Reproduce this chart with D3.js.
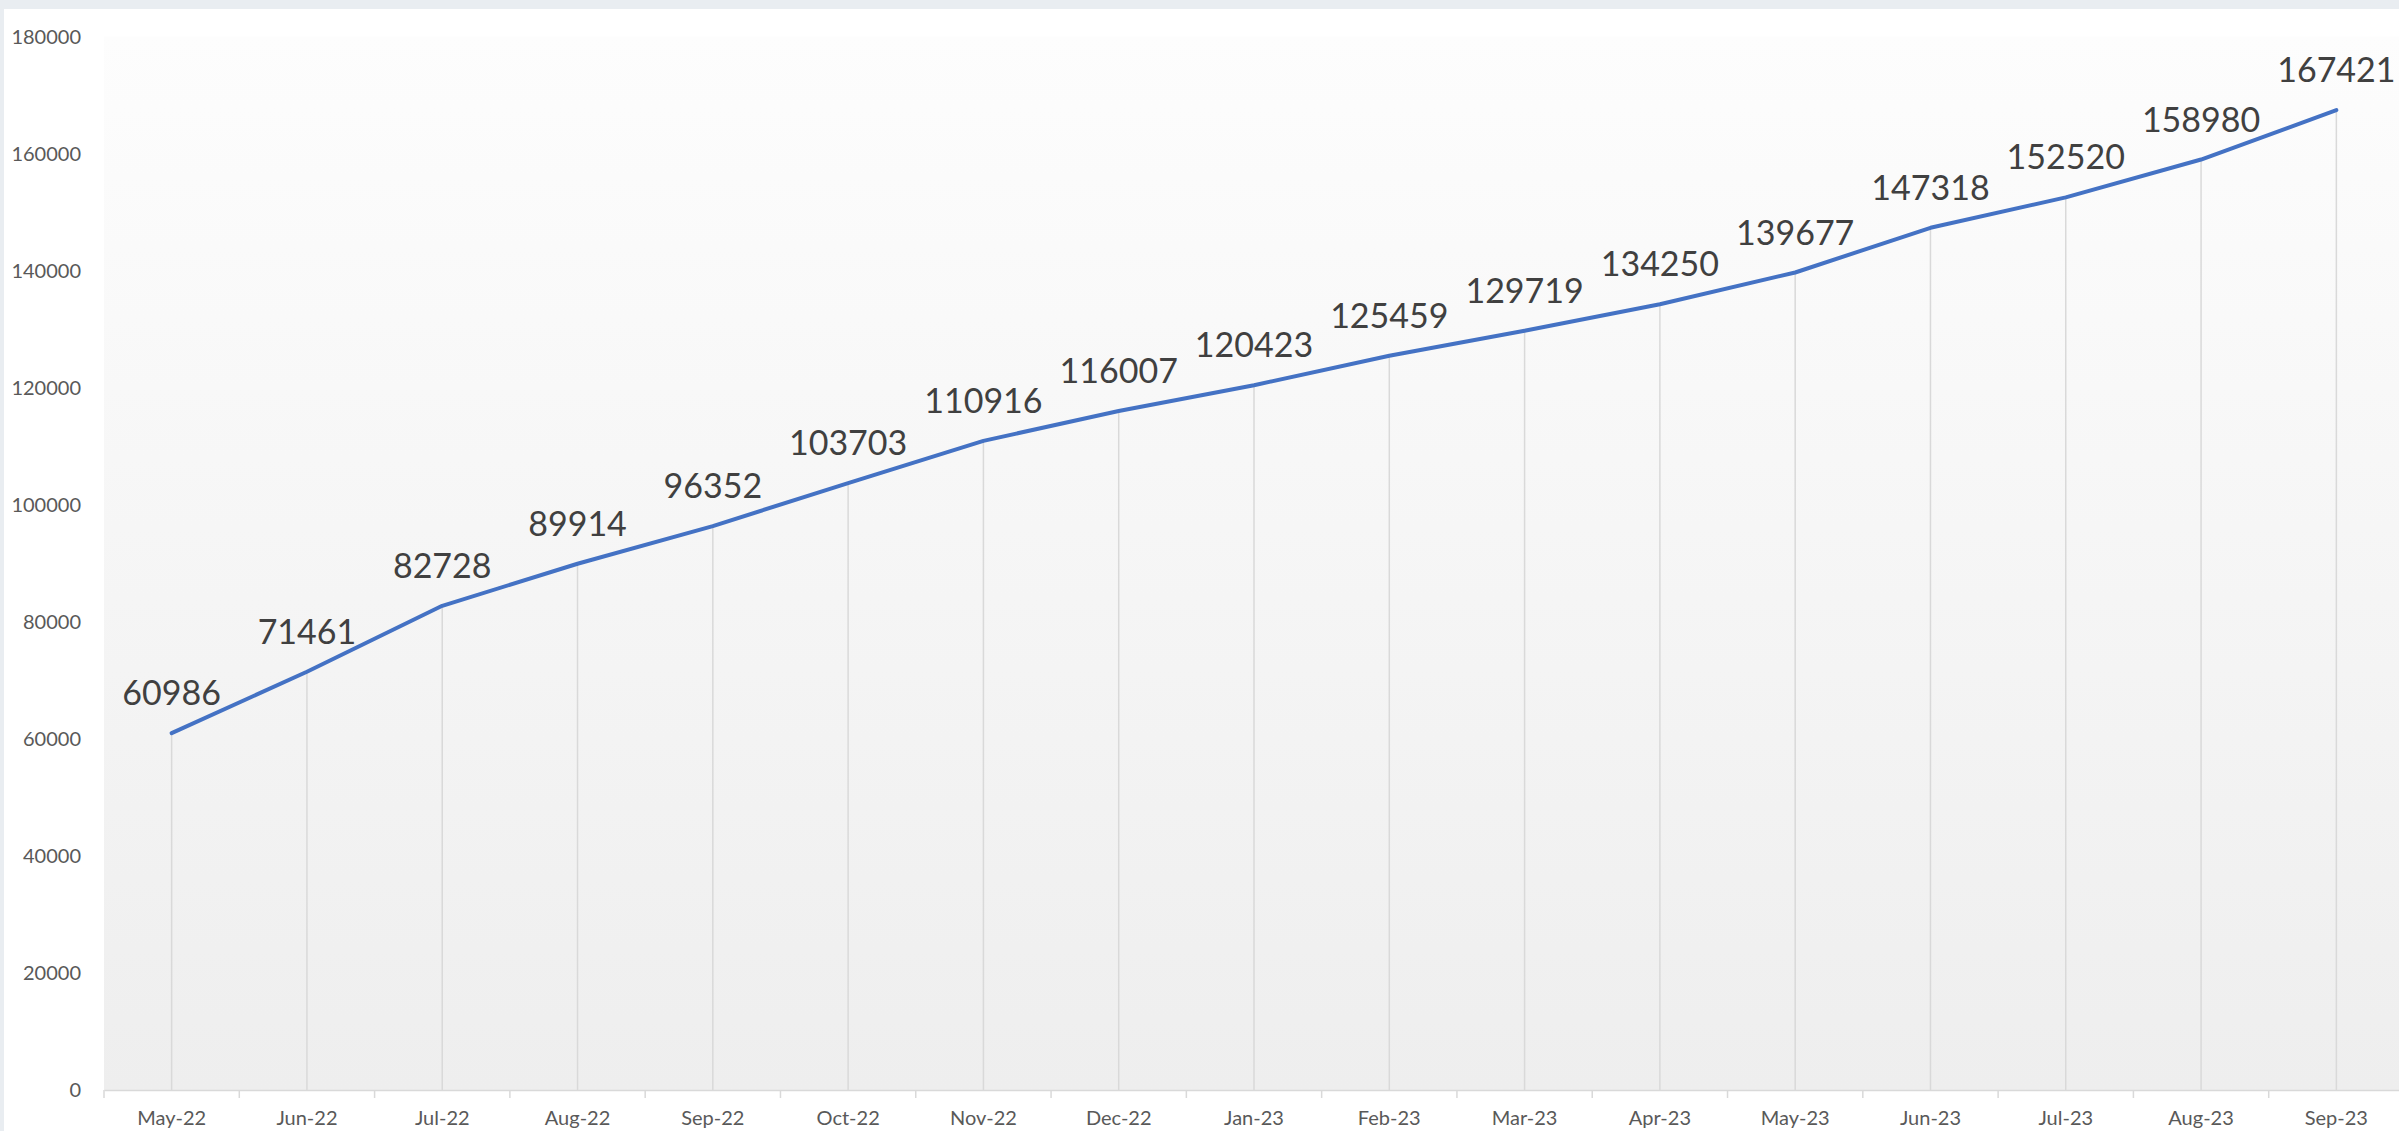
<!DOCTYPE html>
<html>
<head>
<meta charset="utf-8">
<script src="https://cdn.jsdelivr.net/npm/d3@7"></script>
<style>
	html, body { margin: 0; padding: 0; background: #e9edf1; overflow: hidden; }
	text { font-family: Lato, "Open Sans", sans-serif; }
</style>
</head>
<body>
<div class="chart"></div>
<script>
var months = ["May-22", "Jun-22", "Jul-22", "Aug-22", "Sep-22", "Oct-22", "Nov-22", "Dec-22", "Jan-23",
			  "Feb-23", "Mar-23", "Apr-23", "May-23", "Jun-23", "Jul-23", "Aug-23", "Sep-23"];
var totals = [60986, 71461, 82728, 89914, 96352, 103703, 110916, 116007, 120423,
			  125459, 129719, 134250, 139677, 147318, 152520, 158980, 167421];
var yTicks = [0, 20000, 40000, 60000, 80000, 100000, 120000, 140000, 160000, 180000];

var W = 2399, H = 1131;
// note: "top" is a reserved window property, so plot edges get a prefix
var plotLeft = 104, plotRight = 2404, plotTop = 36.5, plotBottom = 1090;

var svg = d3.select(".chart")
			.append("svg")
			.attr("width", W)
			.attr("height", H)
			.style("display", "block");

// white panel
svg.append("rect")
   .attr("x", 4).attr("y", 9)
   .attr("width", W).attr("height", H)
   .attr("fill", "#ffffff");

var grad = svg.append("defs")
			  .append("linearGradient")
			  .attr("id", "plotbg")
			  .attr("x1", 0).attr("y1", 0).attr("x2", 0).attr("y2", 1);
grad.append("stop").attr("offset", "0%").attr("stop-color", "#fdfdfd");
grad.append("stop").attr("offset", "100%").attr("stop-color", "#eeeeee");

var x = d3.scaleBand()
		  .domain(months)
		  .range([plotLeft, plotRight]);

var y = d3.scaleLinear()
		  .domain([0, 180000])
		  .range([plotBottom, plotTop]);

svg.append("rect")
   .attr("x", plotLeft).attr("y", plotTop)
   .attr("width", plotRight - plotLeft).attr("height", plotBottom - plotTop)
   .attr("fill", "url(#plotbg)");

// y labels
svg.selectAll(".ylab")
   .data(yTicks)
   .enter()
   .append("text")
   .attr("class", "ylab")
   .attr("x", 81)
   .attr("y", function(d) { return y(d); })
   .attr("dy", "0.36em")
   .attr("text-anchor", "end")
   .style("font-size", "20px")
   .style("fill", "#595959")
   .text(function(d) { return d; });

// drop lines
var cx = function(d, i) { return x(months[i]) + x.bandwidth() / 2; };
svg.selectAll(".drop")
   .data(totals)
   .enter()
   .append("line")
   .attr("x1", cx).attr("x2", cx)
   .attr("y1", function(d) { return y(d); })
   .attr("y2", plotBottom)
   .style("stroke", "#d9d9d9")
   .style("stroke-width", 1.5);

// x axis
var xAxis = svg.append("g")
			   .attr("transform", "translate(0," + plotBottom + ")")
			   .call(d3.axisBottom(x).tickSize(0).tickPadding(21));
xAxis.select(".domain").style("stroke", "#d9d9d9").style("stroke-width", 1.5);
xAxis.selectAll("text")
	 .style("font-size", "20px")
	 .style("font-family", "Lato, 'Open Sans', sans-serif")
	 .style("fill", "#595959");
xAxis.selectAll(".edge")
	 .data(months)
	 .enter()
	 .append("line")
	 .attr("x1", function(d) { return x(d); })
	 .attr("x2", function(d) { return x(d); })
	 .attr("y1", 0).attr("y2", 8)
	 .style("stroke", "#d9d9d9")
	 .style("stroke-width", 1.5);

// line
var line = d3.line()
			 .x(cx)
			 .y(function(d) { return y(d); });
svg.append("path")
   .datum(totals)
   .attr("d", line)
   .style("fill", "none")
   .style("stroke", "#4472c4")
   .style("stroke-width", 4)
   .style("stroke-linejoin", "round")
   .style("stroke-linecap", "round");

// value labels
svg.selectAll(".val")
   .data(totals)
   .enter()
   .append("text")
   .attr("class", "val")
   .attr("x", cx)
   .attr("y", function(d) { return y(d) - 28; })
   .attr("text-anchor", "middle")
   .style("font-size", "34px")
   .style("fill", "#404040")
   .text(function(d) { return d; });
</script>
</body>
</html>
